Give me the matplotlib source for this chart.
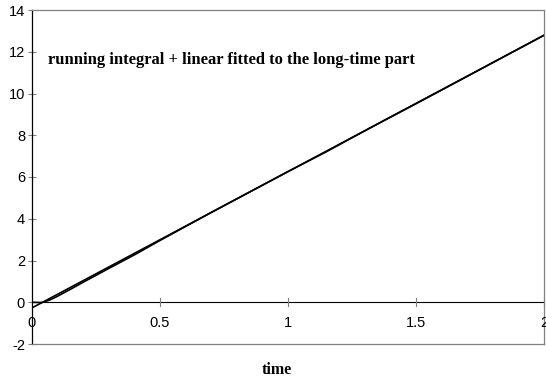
import matplotlib
matplotlib.use("Agg")
import matplotlib.pyplot as plt
import numpy as np

# data
t_curve = [0.0, 0.02, 0.04, 0.07, 0.1, 0.15, 0.2, 0.3, 0.4, 0.5, 0.7, 1.0, 1.15, 1.25, 1.35, 1.5, 1.7, 2.0]
running_integral = [0.0, -0.01, -0.01, 0.11, 0.29, 0.62, 0.96, 1.62, 2.27, 2.96, 4.30, 6.26, 7.21, 7.88, 8.54, 9.51, 10.82, 12.79]
fit_slope = 6.53
fit_intercept = -0.27
t_fit = [0.0, 2.0]

xticks = [0, 0.5, 1, 1.5, 2]
xticklabels = ["0", "0.5", "1", "1.5", "2"]
yticks = [-2, 0, 2, 4, 6, 8, 10, 12, 14]

fig = plt.figure(figsize=(5.46, 3.82), dpi=100)
ax = fig.add_axes([32/546, 1-344/382, (544-32)/546, (344-10)/382])

fit_vals = [fit_intercept + fit_slope*t for t in t_fit]
ax.plot(t_fit, fit_vals, color="black", lw=1.2)
ax.plot(t_curve, running_integral, color="black", lw=1.2)

ax.set_xlim(0, 2)
ax.set_ylim(-2, 14)

# zero line with crossing ticks
ax.axhline(0, color="black", lw=0.8)
for xt in xticks[1:]:
    ax.plot([xt, xt], [-0.2, 0.2], color="gray", lw=0.8, clip_on=False)
for xt, lab in zip(xticks, xticklabels):
    ax.text(xt, -0.65, lab, ha="center", va="top", fontsize=10.5,
            family="Liberation Sans")

ax.set_xticks([])
ax.set_yticks(yticks)
ax.set_yticklabels([str(v) for v in yticks], fontsize=10.5, family="Liberation Sans")
ax.tick_params(axis="y", direction="inout", length=6, width=0.8, pad=2, color="gray")

for s in ["top", "right", "bottom"]:
    ax.spines[s].set_color("gray")
    ax.spines[s].set_linestyle((0, (3, 1)))
    ax.spines[s].set_linewidth(0.9)
ax.spines["left"].set_color("black")
ax.spines["left"].set_linewidth(0.9)

ax.text(0.0625, 11.4, "running integral + linear fitted to the long-time part",
        fontsize=12, fontweight="bold", family="Liberation Serif",
        ha="left", va="baseline")

fig.text(277/546, 1-370/382, "time", fontsize=11.5, fontweight="bold",
         family="Liberation Serif", ha="center", va="center")

fig.savefig("out.png", dpi=100)
